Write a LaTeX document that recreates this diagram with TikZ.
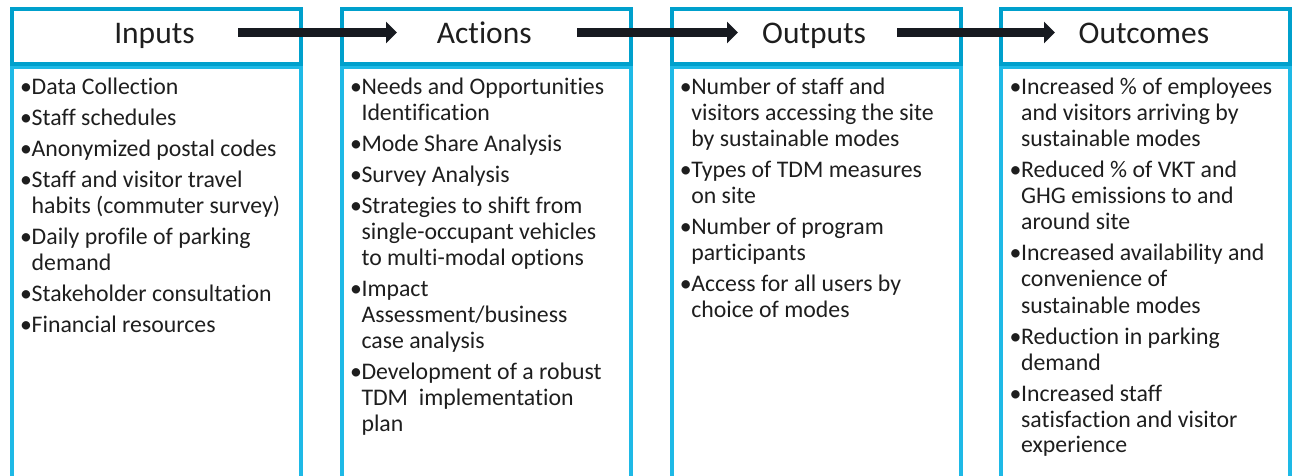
\documentclass[tikz,border=0pt]{standalone}
\usepackage{fontspec}
\setmainfont{Carlito}[Ligatures=NoCommon]
\usetikzlibrary{arrows.meta}
\definecolor{hdrblue}{RGB}{0,160,204}
\definecolor{bodyblue}{RGB}{30,185,230}
\definecolor{arrowink}{RGB}{23,26,32}
\definecolor{txt}{RGB}{30,30,30}
\newcommand\itm{\par\hangindent=11.5pt\hangafter=1\noindent\makebox[11.5pt][l]{•}}
\newcommand\bodyfnt{\fontsize{23.8}{26}\selectfont}
\newcommand\collist[1]{\begin{minipage}[t]{290pt}\bodyfnt\raggedright\setlength\parskip{5pt}#1\end{minipage}}
\tikzset{
  hdrbox/.style={draw=hdrblue, line width=4pt, minimum width=289pt, minimum height=54.5pt, anchor=north west, inner sep=0pt},
  bodybox/.style={draw=bodyblue, line width=4pt, minimum width=289pt, minimum height=440pt, anchor=north west, inner sep=0pt},
  hdrtext/.style={anchor=base, inner sep=0pt, font=\fontsize{31.5}{36}\selectfont, text=txt},
  bodytext/.style={anchor=base west, inner sep=0pt, text=txt},
  flow/.style={draw=arrowink, line width=9pt, -{Triangle[length=11pt,width=21pt]}}
}
\begin{document}
\begin{tikzpicture}[x=1pt,y=-1pt]
\useasboundingbox (0,0) rectangle (1292,476);
\clip (0,0) rectangle (1292,476);
% body boxes
\node[bodybox] (b1) at (10,65) {};
\node[bodybox] (b2) at (339.8,65) {};
\node[bodybox] (b3) at (669.6,65) {};
\node[bodybox] (b4) at (999.4,65) {};
% header boxes
\node[hdrbox] (h1) at (10,7.5) {};
\node[hdrbox] (h2) at (339.8,7.5) {};
\node[hdrbox] (h3) at (669.6,7.5) {};
\node[hdrbox] (h4) at (999.4,7.5) {};
% header texts
\node[hdrtext] (t1) at (154.5,44) {Inputs};
\node[hdrtext] (t2) at (484.3,44) {Actions};
\node[hdrtext] (t3) at (814.1,44) {Outputs};
\node[hdrtext] (t4) at (1143.9,44) {Outcomes};
% arrows
\coordinate (a1s) at (238,32.5);
\coordinate (a1e) at (397,32.5);
\coordinate (a2s) at (577,32.5);
\coordinate (a2e) at (738,32.5);
\coordinate (a3s) at (897,32.5);
\coordinate (a3e) at (1055,32.5);
\draw[flow] (a1s) -- (a1e);
\draw[flow] (a2s) -- (a2e);
\draw[flow] (a3s) -- (a3e);
% body texts
\node[bodytext] (l1) at (20,95) {\collist{%
\itm Data Collection
\itm Staff schedules
\itm Anonymized postal codes
\itm Staff and visitor travel\newline habits (commuter survey)
\itm Daily profile of parking\newline demand
\itm Stakeholder consultation
\itm Financial resources}};
\node[bodytext] (l2) at (349.8,95) {\collist{%
\itm Needs and Opportunities\newline Identification
\itm Mode Share Analysis
\itm Survey Analysis
\itm Strategies to shift from\newline single-occupant vehicles\newline to multi-modal options
\itm Impact\newline Assessment/business\newline case analysis
\itm Development of a robust\newline TDM\ \ implementation\newline plan}};
\node[bodytext] (l3) at (679.6,95) {\collist{%
\itm Number of staff and\newline visitors accessing the site\newline by sustainable modes
\itm Types of TDM measures\newline on site
\itm Number of program\newline participants
\itm Access for all users by\newline choice of modes}};
\node[bodytext] (l4) at (1009.4,95) {\collist{%
\itm Increased \% of employees\newline and visitors arriving by\newline sustainable modes
\itm Reduced \% of VKT and\newline GHG emissions to and\newline around site
\itm Increased availability and\newline convenience of\newline sustainable modes
\itm Reduction in parking\newline demand
\itm Increased staff\newline satisfaction and visitor\newline experience}};
\end{tikzpicture}
\end{document}
